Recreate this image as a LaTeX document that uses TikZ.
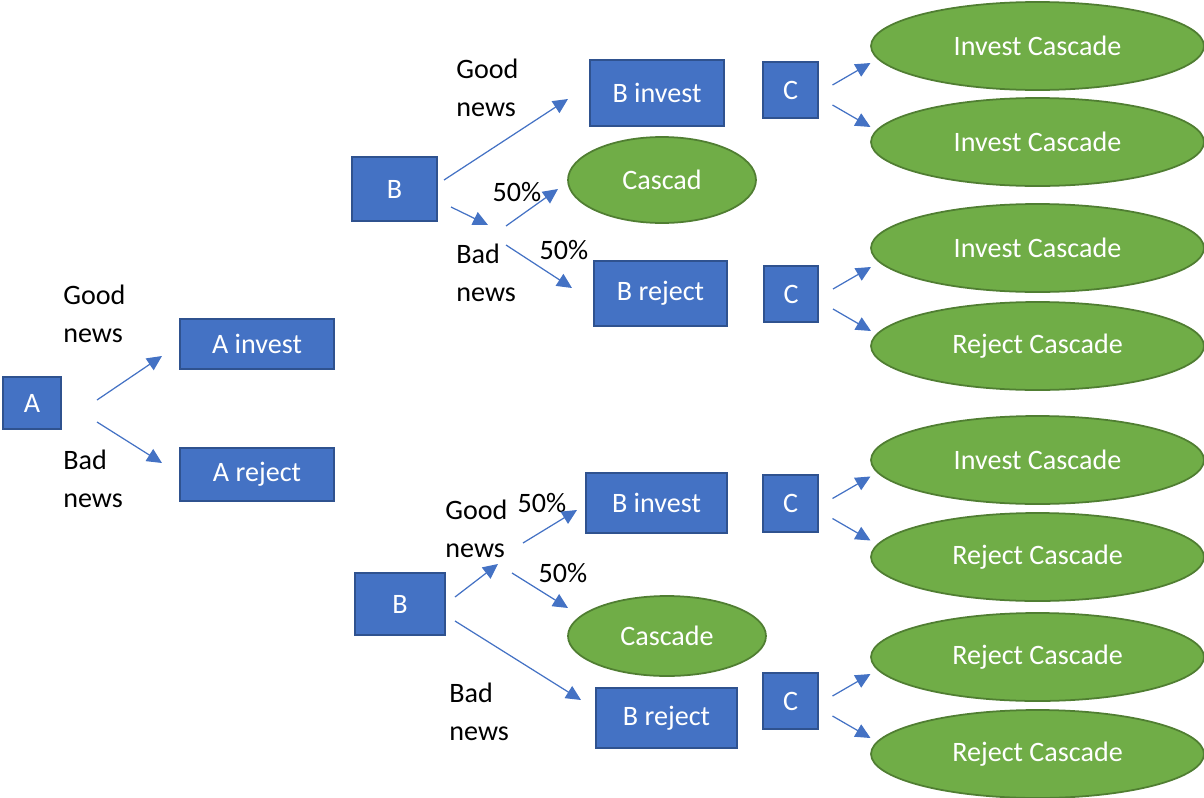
\documentclass[tikz,border=0pt]{standalone}
\usepackage{fontspec}
\setmainfont{Carlito}
\usetikzlibrary{arrows.meta,shapes.geometric}
\definecolor{boxblue}{HTML}{4472C4}
\definecolor{boxedge}{HTML}{2F528F}
\definecolor{ovalgreen}{HTML}{70AD47}
\definecolor{ovaledge}{HTML}{507E32}
\tikzset{
	box/.style={draw=boxedge,fill=boxblue,line width=1pt,text=white,inner sep=0pt},
	oval/.style={ellipse,draw=ovaledge,fill=ovalgreen,line width=1pt,text=white,inner sep=0pt},
	bigoval/.style={oval,minimum width=6.66cm,minimum height=1.76cm},
	arr/.style={-{Triangle[length=8.5pt,width=8pt]},draw=boxblue,line width=0.7pt},
	news/.style={align=left,anchor=west,inner sep=0pt},
	pct/.style={inner sep=0pt}
}

\begin{document}
\begin{tikzpicture}[x=0.02cm,y=-0.02cm,font=\fontsize{16pt}{21.6pt}\selectfont]
		\useasboundingbox (0,0) rectangle (1204,798);

		% first agent
		\node[box,minimum width=1.16cm,minimum height=1.04cm] (A) at (32,403) {A};
		\node[box,minimum width=3.08cm,minimum height=1cm] (Ainv) at (257,344) {A invest};
		\node[box,minimum width=3.08cm,minimum height=1.06cm] (Arej) at (257,474.5) {A reject};
		\node[news] (Agood) at (63,314) {Good\\news};
		\node[news] (Abad) at (63,479) {Bad\\news};

		% second agent, after A invest
		\node[box,minimum width=1.7cm,minimum height=1.28cm] (B1) at (394.5,189) {B};
		\node[box,minimum width=2.68cm,minimum height=1.32cm] (Binv1) at (657,93) {B invest};
		\node[oval,minimum width=3.76cm,minimum height=1.72cm] (Casc1) at (662,180) {Cascad};
		\node[box,minimum width=2.66cm,minimum height=1.3cm] (Brej1) at (660.5,293.5) {B reject};
		\node[news] (B1good) at (456,88) {Good\\news};
		\node[news] (B1bad) at (456,273) {Bad\\news};
		\node[pct] (p1) at (517,192) {50\%};
		\node[pct] (p2) at (564,250) {50\%};

		% second agent, after A reject
		\node[box,minimum width=1.8cm,minimum height=1.24cm] (B2) at (400,604) {B};
		\node[box,minimum width=2.82cm,minimum height=1.2cm] (Binv2) at (656.5,503) {B invest};
		\node[oval,minimum width=3.96cm,minimum height=1.6cm] (Casc2) at (667,636) {Cascade};
		\node[box,minimum width=2.82cm,minimum height=1.2cm] (Brej2) at (666.5,718) {B reject};
		\node[news] (B2good) at (445,529) {Good\\news};
		\node[news] (B2bad) at (449,712) {Bad\\news};
		\node[pct] (p3) at (542,503) {50\%};
		\node[pct] (p4) at (563,573) {50\%};

		% third agent
		\node[box,minimum width=1.1cm,minimum height=1.12cm] (C1) at (790.5,90) {C};
		\node[box,minimum width=1.08cm,minimum height=1.12cm] (C2) at (791,294) {C};
		\node[box,minimum width=1.1cm,minimum height=1.14cm] (C3) at (790.5,503.5) {C};
		\node[box,minimum width=1.1cm,minimum height=1.12cm] (C4) at (790.5,701) {C};

		\node[bigoval] (E1) at (1037.5,46) {Invest Cascade};
		\node[bigoval] (E2) at (1037.5,142) {Invest Cascade};
		\node[bigoval] (E3) at (1037.5,248) {Invest Cascade};
		\node[bigoval] (E4) at (1037.5,346) {Reject Cascade};
		\node[bigoval] (E5) at (1037.5,460) {Invest Cascade};
		\node[bigoval] (E6) at (1037.5,557) {Reject Cascade};
		\node[bigoval] (E7) at (1037.5,657) {Reject Cascade};
		\node[bigoval] (E8) at (1037.5,754) {Reject Cascade};

		% arrow ends
		\coordinate (a0) at (97,400);    \coordinate (a1) at (162,356);
		\coordinate (a2) at (97,422);    \coordinate (a3) at (162,463);
		\coordinate (b0) at (444,180);   \coordinate (b1) at (568,99);
		\coordinate (b2) at (451,207);   \coordinate (b3) at (488,225);
		\coordinate (b4) at (506,226);   \coordinate (b5) at (558,189);
		\coordinate (b6) at (506,245);   \coordinate (b7) at (572,288);
		\coordinate (d0) at (455,597);   \coordinate (d1) at (498,564);
		\coordinate (d2) at (523,543);   \coordinate (d3) at (577,510);
		\coordinate (d4) at (512,573);   \coordinate (d5) at (568,608);
		\coordinate (d6) at (455,621);   \coordinate (d7) at (581,700);

		\draw[arr] (a0) -- (a1);
		\draw[arr] (a2) -- (a3);
		\draw[arr] (b0) -- (b1);
		\draw[arr] (b2) -- (b3);
		\draw[arr] (b4) -- (b5);
		\draw[arr] (b6) -- (b7);
		\draw[arr] (d0) -- (d1);
		\draw[arr] (d2) -- (d3);
		\draw[arr] (d4) -- (d5);
		\draw[arr] (d6) -- (d7);
		\foreach \c in {C1,C2,C3,C4} {
			\draw[arr] ([shift={(42,-5)}]\c.center) -- ([shift={(80,-27)}]\c.center);
			\draw[arr] ([shift={(42,15)}]\c.center) -- ([shift={(80,37)}]\c.center);
		}
\end{tikzpicture}
\end{document}
